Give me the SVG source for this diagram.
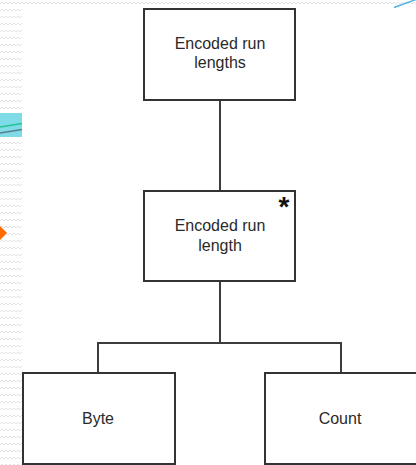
<svg xmlns="http://www.w3.org/2000/svg" width="416" height="465" viewBox="0 0 416 465">
<defs>
<pattern id="zz" x="0" y="0" width="8" height="7" patternUnits="userSpaceOnUse">
<path d="M0,4 L2,2 L4,4 L6,2 L8,4" fill="none" stroke="#e3e3e3" stroke-width="1"/>
</pattern>
<style>
.box{fill:#fff;stroke:#333;stroke-width:2}
.con{fill:none;stroke:#3c3c3c;stroke-width:2}
.lbl{font-family:"Liberation Sans",Arial,sans-serif;font-size:16px;fill:#2a2a2a;text-anchor:middle}
</style>
</defs>
<rect width="416" height="465" fill="#fff"/>
<rect x="0" y="0" width="416" height="7" fill="url(#zz)"/>
<rect x="0" y="0" width="22" height="465" fill="url(#zz)"/>
<rect x="0" y="113" width="22" height="24" fill="#7fdbe8"/>
<line x1="0" y1="127" x2="22" y2="123.5" stroke="#22c58f" stroke-width="1.5"/>
<line x1="0" y1="133" x2="22" y2="129.5" stroke="#5a7f8c" stroke-width="1.5"/>
<polygon points="0,226 7,233 0,240" fill="#ff6a00"/>
<line x1="394" y1="7.5" x2="416" y2="-0.5" stroke="#4fb3e0" stroke-width="1.5"/>
<g id="connectors">
<line class="con" x1="220" y1="100" x2="220" y2="191"/>
<polyline class="con" points="220,281 220,343"/>
<polyline class="con" points="98,373 98,343 341,343 341,373"/>
</g>
<g id="n1">
<rect class="box" x="144" y="9" width="151" height="91"/>
<text class="lbl" x="220" y="49">Encoded run</text>
<text class="lbl" x="220" y="68">lengths</text>
</g>
<g id="n2">
<rect class="box" x="144" y="191" width="151" height="90"/>
<text class="lbl" x="220" y="231">Encoded run</text>
<text class="lbl" x="220" y="251">length</text>
<text x="284" y="216" font-family="'Liberation Sans',Arial,sans-serif" font-size="28" font-weight="bold" text-anchor="middle" fill="#111">*</text>
</g>
<g id="n3">
<rect class="box" x="23" y="373" width="152" height="91"/>
<text class="lbl" x="98" y="424">Byte</text>
</g>
<g id="n4">
<rect class="box" x="265" y="373" width="160" height="91"/>
<text class="lbl" x="340" y="424">Count</text>
</g>
</svg>
